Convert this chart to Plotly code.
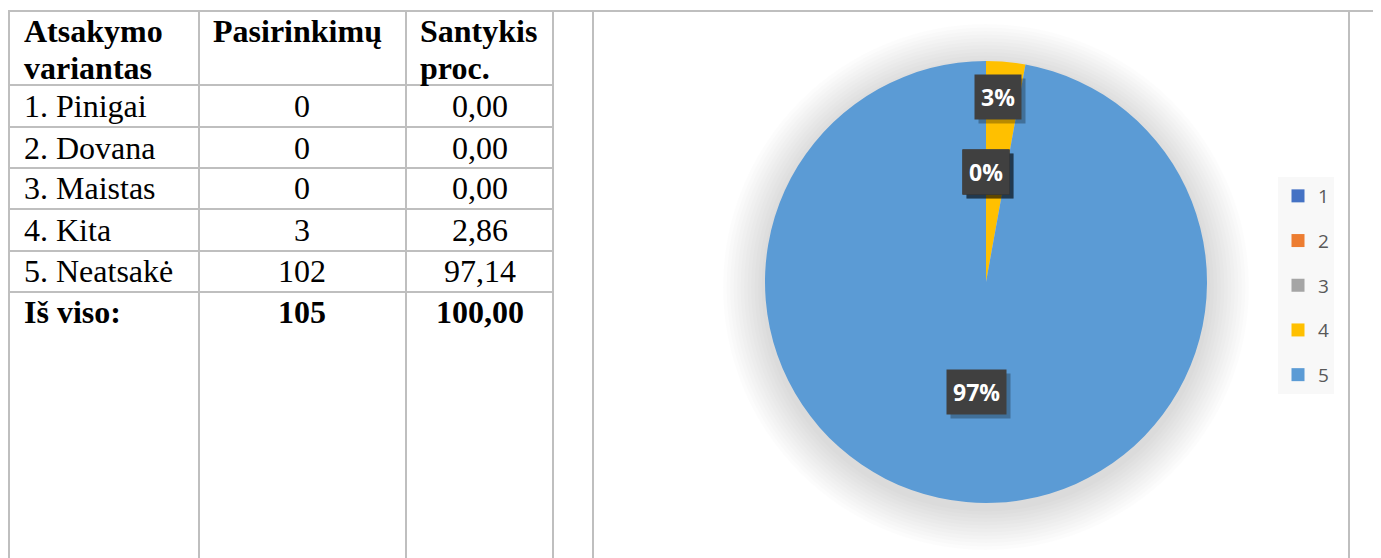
import math
import plotly.graph_objects as go

# ---------------- data ----------------
table_header = ["Atsakymo<br>variantas", "Pasirinkimų", "Santykis<br>proc."]
answer_options = ["1. Pinigai", "2. Dovana", "3. Maistas", "4. Kita", "5. Neatsakė"]
choice_counts = [0, 0, 0, 3, 102]
percent_text = ["0,00", "0,00", "0,00", "2,86", "97,14"]
total_row = ["Iš viso:", "105", "100,00"]
pie_labels = ["1", "2", "3", "4", "5"]
pie_values = [0, 0, 0, 3, 102]
pie_colors = ["#4472C4", "#ED7D31", "#A5A5A5", "#FFC000", "#5B9BD5"]

# page has an 8px body margin; figure is sized to fill the rest of the window
W, H = 1381, 558
OX, OY = 8, 8
FW, FH = W - OX, H - OY


def px(x):
    return (x - OX) / FW


def py(y):
    return 1 - (y - OY) / FH


fig = go.Figure()

# ---------------- pie ----------------
cx, cy, r = 986, 282, 221
fig.add_trace(go.Pie(
    labels=pie_labels,
    values=pie_values,
    marker=dict(colors=pie_colors, line=dict(width=0)),
    sort=False,
    direction="clockwise",
    rotation=0,
    textinfo="none",
    hoverinfo="label+value+percent",
    showlegend=False,
    domain=dict(x=[px(cx - r), px(cx + r)], y=[py(cy + r), py(cy - r)]),
))

# legend via dummy traces (for spacing control)
for lab, col in zip(pie_labels, pie_colors):
    fig.add_trace(go.Scatter(
        x=[None], y=[None], mode="markers", name=lab, legendgroup=lab,
        marker=dict(symbol="square", size=13, color=col),
        showlegend=True,
    ))

shapes = []
# soft pie shadow
for k in range(12, 0, -1):
    rr = r + 3.5 * k
    shapes.append(dict(
        type="circle", xref="paper", yref="paper", layer="below",
        x0=px(cx - rr), x1=px(cx + rr), y0=py(cy + 5 + rr), y1=py(cy + 5 - rr),
        fillcolor="rgba(0,0,0,0.012)", line=dict(width=0),
    ))

line_col = "#BFBFBF"
lw = 2


def hline(y, x0, x1):
    shapes.append(dict(type="line", xref="paper", yref="paper",
                       x0=px(x0), x1=px(x1), y0=py(y), y1=py(y),
                       line=dict(color=line_col, width=lw)))


def vline(x, y0, y1):
    shapes.append(dict(type="line", xref="paper", yref="paper",
                       x0=px(x), x1=px(x), y0=py(y0), y1=py(y1),
                       line=dict(color=line_col, width=lw)))


hline(11, 8, W)
for x in [9, 199, 406, 553, 593, 1349]:
    vline(x, 10, H)
for y in [85, 127, 168, 209, 251, 292]:
    hline(y, 8, 553)

annotations = []
serif = "Liberation Serif"
fs = 32


def text(x, y, s, bold=False, anchor="left"):
    annotations.append(dict(
        x=px(x), y=py(y), xref="paper", yref="paper", text=("<b>%s</b>" % s) if bold else s,
        showarrow=False, xanchor=anchor, yanchor="middle",
        font=dict(family=serif, size=fs, color="#000000"),
    ))


# header
h1 = table_header[0].split("<br>")
h3 = table_header[2].split("<br>")
text(22, 31, h1[0], True)
text(22, 68, h1[1], True)
text(297, 31, table_header[1], True, "center")
text(418, 31, h3[0], True)
text(418, 68, h3[1], True)

row_tops = [85, 127, 168, 209, 251]
row_bots = [127, 168, 209, 251, 292]
for i, (opt, cnt, pct) in enumerate(zip(answer_options, choice_counts, percent_text)):
    yc = (row_tops[i] + row_bots[i]) / 2
    text(22, yc, opt)
    text(302, yc, str(cnt), anchor="center")
    text(480, yc, pct, anchor="center")

text(22, 312, total_row[0], True)
text(302, 312, total_row[1], True, "center")
text(480, 312, total_row[2], True, "center")

# pie data labels
total = sum(pie_values)
label_frac = [0.5, 0.5, 0.5, 0.84, 0.5]
cum = 0
for v, f in zip(pie_values, label_frac):
    mid = (cum + v / 2) / total * 2 * math.pi
    cum += v
    lx = cx + r * f * math.sin(mid) - (5 if f > 0.6 else 0)
    ly = cy - r * f * math.cos(mid)
    lab = "%d%%" % round(v / total * 100)
    # shadow
    annotations.append(dict(
        x=px(lx), y=py(ly), xref="paper", yref="paper", text="<b>%s</b>" % lab,
        showarrow=False, xanchor="center", yanchor="middle", xshift=4, yshift=-4,
        font=dict(family="Open Sans", size=23, color="rgba(0,0,0,0)"),
        bgcolor="rgba(0,0,0,0.28)", borderpad=6,
    ))
    annotations.append(dict(
        x=px(lx), y=py(ly), xref="paper", yref="paper", text="<b>%s</b>" % lab,
        showarrow=False, xanchor="center", yanchor="middle",
        font=dict(family="Open Sans", size=23, color="#FFFFFF"),
        bgcolor="#404040", borderpad=6,
    ))

fig.update_layout(
    width=FW, height=FH,
    margin=dict(l=0, r=0, t=0, b=0),
    paper_bgcolor="#FFFFFF", plot_bgcolor="#FFFFFF",
    xaxis=dict(visible=False, domain=[0.999, 1.0]),
    yaxis=dict(visible=False, domain=[0.999, 1.0]),
    shapes=shapes,
    annotations=annotations,
    showlegend=True,
    legend=dict(
        x=px(1278), y=py(177), xanchor="left", yanchor="top",
        bgcolor="#F8F8F8", borderwidth=0,
        font=dict(family="Open Sans", size=19, color="#595959"),
        tracegroupgap=17, itemclick=False, itemdoubleclick=False,
    ),
)

fig.write_html("out.html")
